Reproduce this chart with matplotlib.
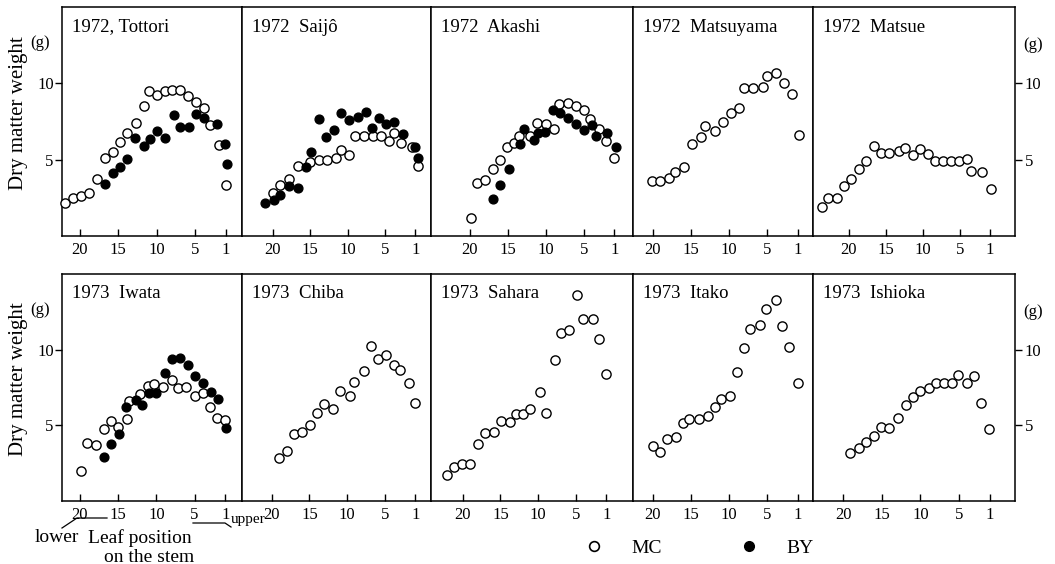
import matplotlib
matplotlib.use("Agg")
import matplotlib.pyplot as plt
from matplotlib.lines import Line2D

plt.rcParams['font.family'] = ['Liberation Serif', 'DejaVu Serif']

# ---------------- data (leaf position counted from top, dry weight g) ----------------
titles = ["1972, Tottori", "1972  Saijô", "1972  Akashi", "1972  Matsuyama", "1972  Matsue",
          "1973  Iwata", "1973  Chiba", "1973  Sahara", "1973  Itako", "1973  Ishioka"]

tottori_mc_x = [21.9, 20.9, 19.8, 18.8, 17.7, 16.7, 15.7, 14.7, 13.8, 12.7, 11.7, 11.0, 9.9, 8.9, 8.0, 7.0, 5.9, 4.9, 3.9, 3.0, 1.9, 1.0]
tottori_mc_y = [2.15, 2.5, 2.59, 2.81, 3.72, 5.13, 5.49, 6.15, 6.75, 7.41, 8.5, 9.47, 9.25, 9.47, 9.56, 9.56, 9.16, 8.78, 8.41, 7.26, 5.93, 3.36]
tottori_by_x = [16.7, 15.7, 14.7, 13.8, 12.8, 11.7, 10.9, 9.9, 8.9, 7.8, 7.0, 5.8, 4.9, 3.8, 2.1, 1.1, 0.9]
tottori_by_y = [3.38, 4.12, 4.54, 5.04, 6.42, 5.88, 6.35, 6.86, 6.42, 7.9, 7.17, 7.12, 8.0, 7.74, 7.35, 6.02, 4.71]

saijo_mc_x = [20.0, 19.0, 17.9, 16.7, 15.05, 13.9, 12.8, 11.6, 10.9, 9.8, 9.1, 7.85, 6.7, 5.6, 4.5, 3.9, 2.85, 1.5, 0.65]
saijo_mc_y = [2.83, 3.32, 3.76, 4.56, 4.82, 4.98, 4.98, 5.13, 5.64, 5.31, 6.53, 6.53, 6.53, 6.53, 6.19, 6.77, 6.1, 5.8, 4.58]
saijo_by_x = [21.1, 19.8, 19.0, 17.9, 16.7, 15.6, 14.9, 13.9, 12.9, 11.8, 10.9, 9.8, 8.7, 7.6, 6.8, 5.9, 4.9, 3.8, 2.6, 1.0, 0.65]
saijo_by_y = [2.19, 2.39, 2.7, 3.27, 3.14, 4.49, 5.49, 7.68, 6.5, 6.92, 8.03, 7.61, 7.77, 8.12, 7.08, 7.72, 7.35, 7.48, 6.68, 5.82, 5.09]

akashi_mc_x = [19.9, 19.1, 18.0, 17.0, 16.0, 15.1, 14.2, 13.5, 12.1, 11.2, 10.0, 8.9, 8.3, 7.1, 6.0, 5.0, 4.2, 3.0, 2.1, 1.07]
akashi_mc_y = [1.17, 3.47, 3.69, 4.42, 4.96, 5.8, 6.11, 6.57, 6.57, 7.41, 7.35, 6.99, 8.67, 8.74, 8.54, 8.27, 7.65, 7.04, 6.19, 5.09]
akashi_by_x = [16.9, 16.0, 14.9, 13.4, 12.9, 11.5, 11.1, 10.1, 9.0, 8.2, 7.06, 6.0, 4.97, 4.0, 3.46, 2.0, 0.83]
akashi_by_y = [2.43, 3.36, 4.42, 6.04, 7.04, 6.26, 6.77, 6.81, 8.25, 8.03, 7.7, 7.35, 6.95, 7.3, 6.57, 6.75, 5.8]

matsuyama_mc_x = [20.1, 19.0, 17.9, 17.1, 15.9, 14.8, 13.7, 13.1, 11.9, 10.8, 9.8, 8.7, 8.0, 6.86, 5.5, 5.0, 3.9, 2.8, 1.8, 0.79]
matsuyama_mc_y = [3.58, 3.58, 3.81, 4.2, 4.49, 6.02, 6.46, 7.19, 6.88, 7.46, 8.08, 8.38, 9.69, 9.69, 9.78, 10.46, 10.69, 10.0, 9.31, 6.59]

matsue_mc_x = [23.7, 22.8, 21.6, 20.7, 19.7, 18.6, 17.7, 16.6, 15.7, 14.6, 13.3, 12.4, 11.4, 10.4, 9.3, 8.4, 7.3, 6.3, 5.2, 4.1, 3.5, 2.0, 0.9]
matsue_mc_y = [1.89, 2.46, 2.46, 3.27, 3.71, 4.41, 4.93, 5.9, 5.44, 5.44, 5.57, 5.77, 5.29, 5.72, 5.35, 4.93, 4.93, 4.93, 4.93, 5.02, 4.25, 4.17, 3.05]

iwata_mc_x = [19.9, 19.05, 17.9, 16.9, 16.0, 15.0, 13.9, 13.6, 12.1, 11.15, 10.3, 9.1, 7.9, 7.2, 6.1, 5.0, 3.9, 3.0, 2.1, 1.0]
iwata_mc_y = [2.0, 3.82, 3.73, 4.78, 5.29, 4.89, 5.44, 6.6, 7.07, 7.62, 7.76, 7.51, 8.0, 7.47, 7.51, 6.93, 7.11, 6.18, 5.49, 5.33]
iwata_by_x = [16.9, 15.9, 14.9, 14.0, 12.7, 11.85, 11.0, 10.0, 8.9, 7.9, 6.9, 5.8, 4.9, 3.9, 2.9, 1.9, 0.9]
iwata_by_y = [2.93, 3.78, 4.4, 6.18, 6.67, 6.33, 7.11, 7.16, 8.44, 9.38, 9.42, 9.0, 8.27, 7.78, 7.22, 6.73, 4.8]

chiba_mc_x = [19.0, 17.9, 17.0, 16.0, 14.9, 14.0, 13.1, 11.9, 10.9, 9.7, 9.05, 7.8, 6.9, 5.9, 4.9, 3.8, 3.0, 1.9, 1.0]
chiba_mc_y = [2.84, 3.31, 4.44, 4.53, 5.0, 5.82, 6.38, 6.07, 7.29, 6.93, 7.87, 8.58, 10.27, 9.38, 9.67, 8.98, 8.64, 7.82, 6.49]

sahara_mc_x = [22.1, 21.2, 20.1, 19.0, 18.0, 17.0, 15.9, 14.9, 13.7, 13.0, 12.0, 11.1, 9.8, 9.0, 7.8, 7.0, 5.9, 4.9, 4.1, 2.8, 2.0, 1.0]
sahara_mc_y = [1.71, 2.22, 2.44, 2.44, 3.78, 4.47, 4.58, 5.27, 5.22, 5.76, 5.73, 6.11, 7.22, 5.82, 9.33, 11.11, 11.29, 13.6, 12.04, 12.0, 10.69, 8.36]

itako_mc_x = [20.0, 19.0, 18.2, 16.9, 16.1, 15.2, 14.0, 12.8, 11.9, 11.1, 9.9, 9.0, 8.0, 7.2, 6.0, 5.1, 3.9, 3.1, 2.1, 1.0]
itako_mc_y = [3.64, 3.22, 4.09, 4.22, 5.16, 5.44, 5.42, 5.6, 6.18, 6.71, 6.96, 8.51, 10.11, 11.38, 11.6, 12.71, 13.27, 11.56, 10.16, 7.78]

ishioka_mc_x = [19.05, 18.0, 17.0, 16.0, 15.1, 14.1, 12.9, 11.9, 11.0, 10.1, 8.9, 8.0, 7.0, 5.9, 5.1, 4.0, 3.1, 2.2, 1.1]
ishioka_mc_y = [3.15, 3.52, 3.91, 4.28, 4.87, 4.83, 5.46, 6.37, 6.89, 7.28, 7.5, 7.83, 7.83, 7.83, 8.3, 7.78, 8.24, 6.48, 4.74]

x_ticks = [20, 15, 10, 5, 1]
y_ticks = [5, 10]

panels = [
    (tottori_mc_x, tottori_mc_y, tottori_by_x, tottori_by_y),
    (saijo_mc_x, saijo_mc_y, saijo_by_x, saijo_by_y),
    (akashi_mc_x, akashi_mc_y, akashi_by_x, akashi_by_y),
    (matsuyama_mc_x, matsuyama_mc_y, None, None),
    (matsue_mc_x, matsue_mc_y, None, None),
    (iwata_mc_x, iwata_mc_y, iwata_by_x, iwata_by_y),
    (chiba_mc_x, chiba_mc_y, None, None),
    (sahara_mc_x, sahara_mc_y, None, None),
    (itako_mc_x, itako_mc_y, None, None),
    (ishioka_mc_x, ishioka_mc_y, None, None),
]

# ---------------- layout ----------------
W, H = 1055, 564
fig = plt.figure(figsize=(W / 100, H / 100), dpi=100)
fig.patch.set_facecolor('white')

col_edges = [62, 242, 431, 633, 813, 1015]
row_edges = [(7, 236), (274, 501)]
xlims = [(22.3, -1.1), (24.1, -1.1), (25.1, -1.45), (22.6, -1.0), (24.85, -2.4),
         (22.35, -1.2), (23.9, -1.06), (24.2, -2.55), (22.6, -1.0), (23.9, -2.24)]

FS = 12
for i, (mx, my, bx, by) in enumerate(panels):
    r, c = divmod(i, 5)
    x0, x1 = col_edges[c], col_edges[c + 1]
    yt, yb = row_edges[r]
    ax = fig.add_axes([x0 / W, 1 - yb / H, (x1 - x0) / W, (yb - yt) / H])
    ax.scatter(mx, my, s=44, facecolors='white', edgecolors='black', linewidths=1.0, zorder=3, clip_on=False)
    if bx is not None:
        ax.scatter(bx, by, s=40, facecolors='black', edgecolors='black', linewidths=1.0, zorder=4, clip_on=False)
    ax.set_xlim(*xlims[i])
    ax.set_ylim(0, 15)
    ax.set_xticks(x_ticks)
    ax.set_xticklabels([str(t) for t in x_ticks])
    ax.tick_params(axis='x', direction='in', length=5, width=1, pad=4, labelsize=FS)
    ax.set_yticks(y_ticks)
    ax.set_yticklabels([str(t) for t in y_ticks])
    if c == 0:
        ax.tick_params(axis='y', direction='out', length=5, width=1, pad=1, labelsize=FS,
                       left=True, labelleft=True, right=False)
    elif c == 4:
        ax.tick_params(axis='y', direction='out', length=5, width=1, pad=2, labelsize=FS,
                       left=False, labelleft=False, right=True, labelright=True)
    else:
        ax.tick_params(axis='y', left=False, labelleft=False)
    for sp in ax.spines.values():
        sp.set_linewidth(1.1)
    ax.text(10 / (x1 - x0), 1 - 20 / (yb - yt), titles[i], transform=ax.transAxes,
            ha='left', va='center', fontsize=13.5)

# y-axis labels and units
for yt, yb in row_edges:
    ymid = (yt + yb) / 2 - 8
    fig.text(19 / W, 1 - ymid / H, "Dry matter weight", rotation=90, ha='center', va='center', fontsize=15)
    fig.text(40 / W, 1 - (yt + 36) / H, "(g)", ha='center', va='center', fontsize=FS)
    fig.text(1033 / W, 1 - (yt + 38) / H, "(g)", ha='center', va='center', fontsize=FS)

# leaf position annotation
fig.text(35 / W, 1 - 538 / H, "lower", ha='left', va='center', fontsize=14)
fig.text(88 / W, 1 - 538 / H, "Leaf position", ha='left', va='center', fontsize=14)
fig.text(149 / W, 1 - 557 / H, "on the stem", ha='center', va='center', fontsize=14)
fig.text(231 / W, 1 - 519 / H, "upper", ha='left', va='center', fontsize=11)
fig.add_artist(Line2D([62 / W, 77 / W, 107 / W], [1 - 528 / H, 1 - 518 / H, 1 - 518 / H],
                      color='black', lw=0.9, transform=fig.transFigure))
fig.add_artist(Line2D([193 / W, 225 / W, 231 / W], [1 - 523 / H, 1 - 523 / H, 1 - 527 / H],
                      color='black', lw=0.9, transform=fig.transFigure))

# legend
handles = [Line2D([], [], ls='none', marker='o', markersize=7, markerfacecolor='white',
                  markeredgecolor='black', markeredgewidth=1.2, label='MC'),
           Line2D([], [], ls='none', marker='o', markersize=7, markerfacecolor='black',
                  markeredgecolor='black', label='BY')]
fig.legend(handles=handles, loc='center', bbox_to_anchor=(699 / W, 1 - 548 / H), ncol=2,
           frameon=False, fontsize=14, handlelength=1.0, handletextpad=1.4, columnspacing=4.0)

fig.savefig("out.png", dpi=100, facecolor='white')
